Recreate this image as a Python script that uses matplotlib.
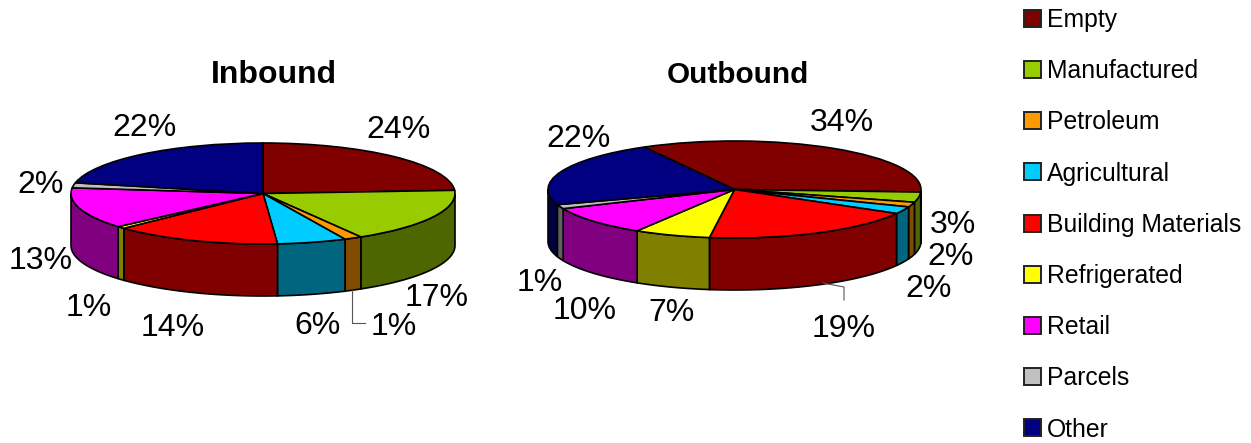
import numpy as np
import matplotlib
matplotlib.use('Agg')
import matplotlib.pyplot as plt
from matplotlib.colors import to_rgb
from matplotlib.patches import Patch, Polygon

plt.rcParams['font.family'] = ['Liberation Sans', 'DejaVu Sans']

W = 1251
H = 443

categories = ['Empty', 'Manufactured', 'Petroleum', 'Agricultural', 'Building Materials',
              'Refrigerated', 'Retail', 'Parcels', 'Other']
colors = ['#800000', '#99CC00', '#FF9900', '#00CCFF', '#FF0000',
          '#FFFF00', '#FF00FF', '#C0C0C0', '#000080']

inbound = [24.0, 17.49, 1.49, 5.82, 14.1, 0.7, 13.2, 1.6, 21.6]
outbound = [33.9, 3.4, 1.6, 2.4, 18.9, 6.6, 9.8, 1.4, 22.0]

# label centres in pixels, same order as categories
inbound_labels = [(398, 130), (437, 298), (394, 327), (317, 326), (173, 328),
                  (89, 308), (41, 261), (41, 185), (144, 128)]
outbound_labels = [(842, 123), (953, 225), (951, 257), (929, 289), (844, 329),
                   (672, 313), (585, 311), (540, 283), (578, 139)]


def draw_pie(values, left, right, cy, ry, depth, start):
    rx = (right - left) / 2
    depth_u = depth / ry
    pad = 0.03
    # axes box in pixels, pie radius 1 is stretched into the ellipse
    x0 = left - pad * rx
    x1 = right + pad * rx
    y_top = cy - (1 + pad) * ry
    y_bot = cy + (1 + pad + depth_u) * ry
    ax = fig.add_axes([x0 / W, 1 - y_bot / H, (x1 - x0) / W, (y_bot - y_top) / H])

    total = sum(values)
    angle = start
    for v, c in zip(values, colors):
        a0 = angle
        a1 = angle - 360 * v / total
        angle = a1
        # only the part of the slice on the lower half has a visible wall
        th = np.radians(np.linspace(a0, a1, 80))
        th = th[np.sin(th) <= 0]
        if len(th) < 2:
            continue
        xs = np.cos(th)
        ys = np.sin(th)
        pts = np.concatenate([np.column_stack([xs, ys]),
                              np.column_stack([xs[::-1], ys[::-1] - depth_u])])
        side = tuple(0.5 * k for k in to_rgb(c))
        ax.add_patch(Polygon(pts, closed=True, facecolor=side, edgecolor='black', linewidth=1.2))

    ax.pie(values, colors=colors, startangle=start, counterclock=False, radius=1,
           wedgeprops={'edgecolor': 'black', 'linewidth': 1.2})
    ax.set_aspect('auto')
    ax.set_xlim(-1 - pad, 1 + pad)
    ax.set_ylim(-1 - pad - depth_u, 1 + pad)
    ax.axis('off')
    return ax


fig = plt.figure(figsize=(W / 100, H / 100), dpi=100, facecolor='white')

draw_pie(inbound, 71, 455, 193.5, 50.5, 52, 90)
draw_pie(outbound, 548, 921, 189.5, 48.5, 52, 119)

# overlay in pixel coordinates for text and leader lines
ov = fig.add_axes([0, 0, 1, 1], facecolor='none')
ov.set_xlim(0, W)
ov.set_ylim(H, 0)
ov.axis('off')

ov.text(274, 75, 'Inbound', fontsize=23, fontweight='bold', ha='center', va='center')
ov.text(737.5, 74.5, 'Outbound', fontsize=21.4, fontweight='bold', ha='center', va='center')

for vals, pos in [(inbound, inbound_labels), (outbound, outbound_labels)]:
    for v, (x, y) in zip(vals, pos):
        ov.text(x, y, f'{v:.0f}%', fontsize=23, ha='center', va='center', color='black')

ov.plot([352, 352, 365], [290, 323, 323], color='#555555', linewidth=0.8)
ov.plot([823, 844, 844], [283, 287, 300], color='#555555', linewidth=0.8)

handles = [Patch(facecolor=c, edgecolor='#222222', linewidth=1.4) for c in colors]
fig.legend(handles, categories, loc='upper left', bbox_to_anchor=(1024 / W, 1 - 8 / H),
           fontsize=17.8, frameon=False, borderpad=0, borderaxespad=0,
           handlelength=0.68, handleheight=0.68, handletextpad=0.24, labelspacing=1.1)

fig.savefig('out.png', dpi=100)
